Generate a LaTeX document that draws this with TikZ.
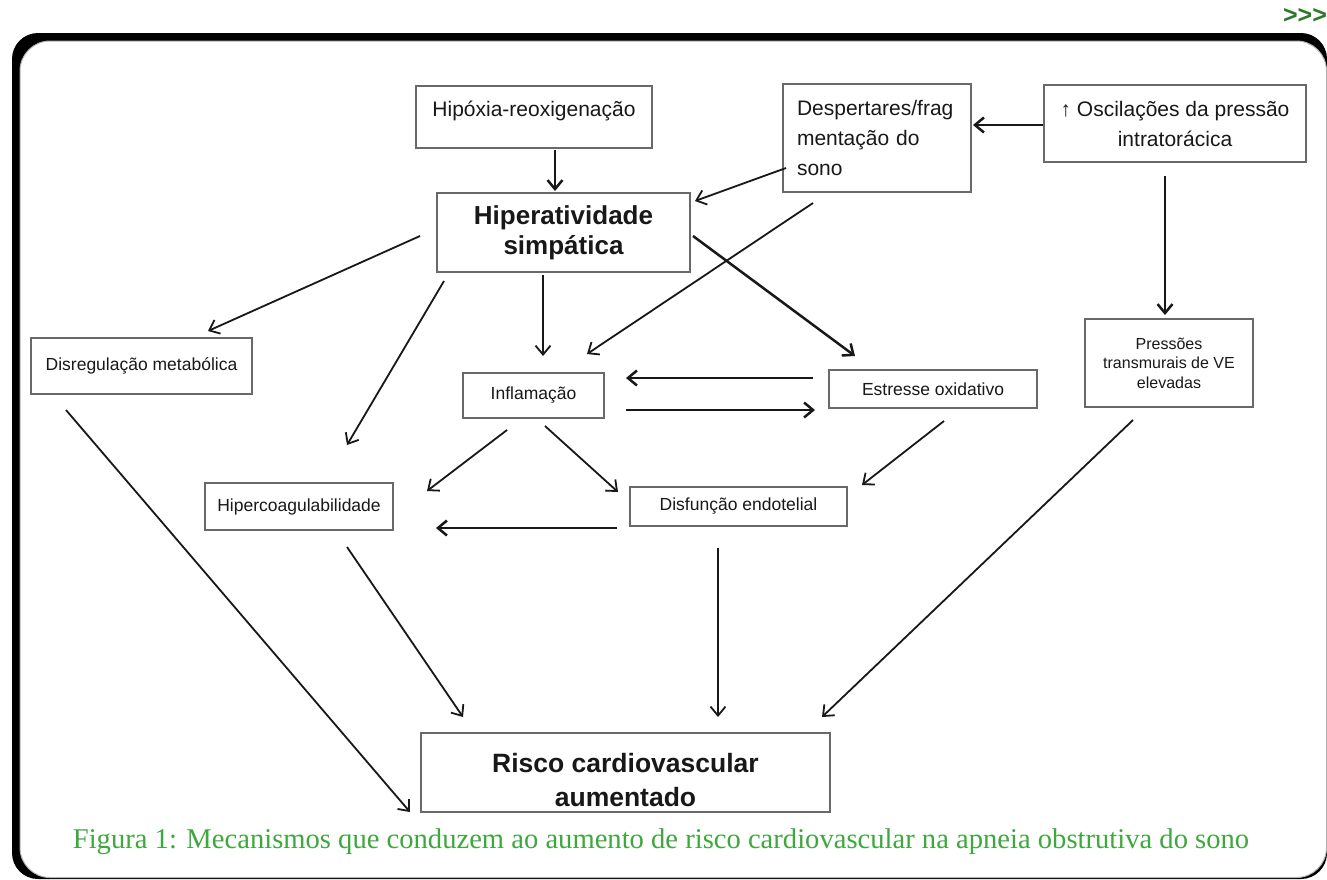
\documentclass[tikz,border=0pt]{standalone}
\usepackage{fontspec}
\setmainfont{Liberation Serif}
\newfontfamily\arialfont{Liberation Sans}
\usetikzlibrary{arrows.meta, calc, backgrounds}
\definecolor{capgreen}{RGB}{62,168,62}
\definecolor{navgreen}{RGB}{42,122,40}
\definecolor{boxgray}{RGB}{105,105,105}
\definecolor{inkgray}{RGB}{24,24,24}
\tikzset{
  box/.style = {
    rectangle, draw=boxgray, line width=1.2pt, align=center,
    text=inkgray, inner sep=2pt
  },
  bigtxt/.style   = {font=\arialfont\fontsize{21}{30}\selectfont},
  boldtxt/.style  = {font=\arialfont\bfseries\fontsize{26}{30}\selectfont},
  smalltxt/.style = {font=\arialfont\fontsize{17.5}{20}\selectfont},
  tinytxt/.style  = {font=\arialfont\fontsize{16}{19.5}\selectfont},
  riskotxt/.style = {font=\arialfont\bfseries\fontsize{26.5}{34}\selectfont,
                     align=center, text=inkgray},
  link/.style = {
    draw=inkgray, line width=1.8pt,
    -{Straight Barb[length=9pt,width=15pt]}
  },
  linkbold/.style = { link, line width=2.5pt }
}

\begin{document}
\begin{tikzpicture}[x=1pt, y=-1pt]

    \useasboundingbox (0,0) rectangle (1327,879);

    % ------------------------------------------------------------- Frame
    \fill [black, rounded corners=26pt] (12,33) rectangle (1327,879);
    \filldraw [fill=white, draw=black!30, line width=1pt, rounded corners=30pt]
      (20,41) rectangle (1326.5,877.5);
    \node [text=navgreen, font=\arialfont\bfseries\fontsize{25}{25}\selectfont]
      (more) at (1305,16) {>{}>{}>};

    % ------------------------------------------------------------ Top row
    \node [box, minimum width=236pt, minimum height=62pt,
           label={[bigtxt, text=inkgray, yshift=6pt]center:Hipóxia-reoxigenação}]
      (hipox) at (534,117) {};
    \node [box, bigtxt, minimum width=188pt, minimum height=108pt,
           text width=160pt, align=left]
      (desp) at (877,138) {Despertares/frag\\mentação do\\sono};
    \node [box, bigtxt, minimum width=262pt, minimum height=77pt]
      (osc) at (1175,123.5) {↑ Oscilações da pressão\\intratorácica};

    % -------------------------------------------------------- Middle row
    \node [box, boldtxt, minimum width=253pt, minimum height=79pt]
      (hiper) at (563.5,232.5) {Hiperatividade\\simpática};
    \node [box, smalltxt, minimum width=221pt, minimum height=56pt]
      (disreg) at (141.5,366) {Disregulação metabólica};
    \node [box, smalltxt, minimum width=141pt, minimum height=45pt]
      (infl) at (533.5,395.5) {Inflamação};
    \node [box, smalltxt, minimum width=208pt, minimum height=38pt]
      (estr) at (933,389) {Estresse oxidativo};
    \node [box, tinytxt, minimum width=168pt, minimum height=88pt]
      (press) at (1169,363) {Pressões\\transmurais de VE\\elevadas};

    % -------------------------------------------------------- Lower row
    \node [box, smalltxt, minimum width=188pt, minimum height=47pt]
      (hiperc) at (299,506.5) {Hipercoagulabilidade};
    \node [box, smalltxt, minimum width=217pt, minimum height=39pt]
      (disf) at (738.5,506.5) {Disfunção endotelial};

    % ------------------------------------------------------------ Result
    \node [box, minimum width=409pt, minimum height=79pt,
           label={[riskotxt, yshift=-8pt]center:{Risco cardiovascular\\aumentado}}]
      (risco) at (625.5,772.5) {};

    % ----------------------------------------------------------- Caption
    \node [text=capgreen, font=\fontsize{28.6}{28.6}\selectfont]
      (caption) at (661,842)
      {Figura 1: Mecanismos que conduzem ao aumento de risco cardiovascular na apneia obstrutiva do sono};

    % -------------------------------------------------------- Connectors
    \draw [linkbold] ($(hipox)+(21,33)$)      -- ($(hiper)+(-8.5,-41.5)$);
    \draw [linkbold] ($(osc)+(-132,1.5)$)     -- ($(desp)+(96,-13)$);
    \draw [link]     ($(desp)+(-91,30)$)      -- ($(hiper)+(131.5,-31.5)$);
    \draw [link]     ($(desp)+(-64,65)$)      -- ($(infl)+(53.5,-41.5)$);
    \draw [linkbold] ($(osc)+(-10,52.5)$)     -- ($(press)+(-4,-48)$);

    % -------- from hiperatividade
    \draw [link]     ($(hiper)+(-143.5,3.5)$) -- ($(disreg)+(66.5,-35)$);
    \draw [link]     ($(hiper)+(-20.5,42.5)$) -- ($(infl)+(9.5,-39.5)$);
    \draw [linkbold] ($(hiper)+(129.5,3.5)$)  -- ($(estr)+(-78,-33)$);
    \draw [link]     ($(hiper)+(-119.5,48.5)$) -- ($(hiperc)+(48,-61.5)$);

    % -------- inflamacao / estresse
    \draw [linkbold] ($(estr)+(-120,-11)$)    -- ($(infl)+(92.5,-17.5)$);
    \draw [linkbold] ($(infl)+(92.5,14.5)$)   -- ($(estr)+(-118,21)$);
    \draw [link]     ($(infl)+(-26.5,34.5)$)  -- ($(hiperc)+(128,-15.5)$);
    \draw [link]     ($(infl)+(11.5,30.5)$)   -- ($(disf)+(-120.5,-14.5)$);
    \draw [link]     ($(estr)+(11,32)$)       -- ($(disf)+(123.5,-21.5)$);
    \draw [linkbold] ($(disf)+(-121.5,21.5)$) -- ($(hiperc)+(137,21.5)$);

    % -------- towards risco
    \draw [link]     ($(press)+(-36,57)$)     -- ($(risco)+(196.5,-55.5)$);
    \draw [link]     ($(disf)+(-20.5,41.5)$)  -- ($(risco)+(92.5,-55.5)$);
    \draw [link]     ($(hiperc)+(48,40.5)$)   -- ($(risco)+(-162.5,-55.5)$);
    \draw [link]     ($(disreg)+(-75.5,44)$)  -- ($(risco)+(-215.5,39.5)$);

  \end{tikzpicture}
\end{document}
